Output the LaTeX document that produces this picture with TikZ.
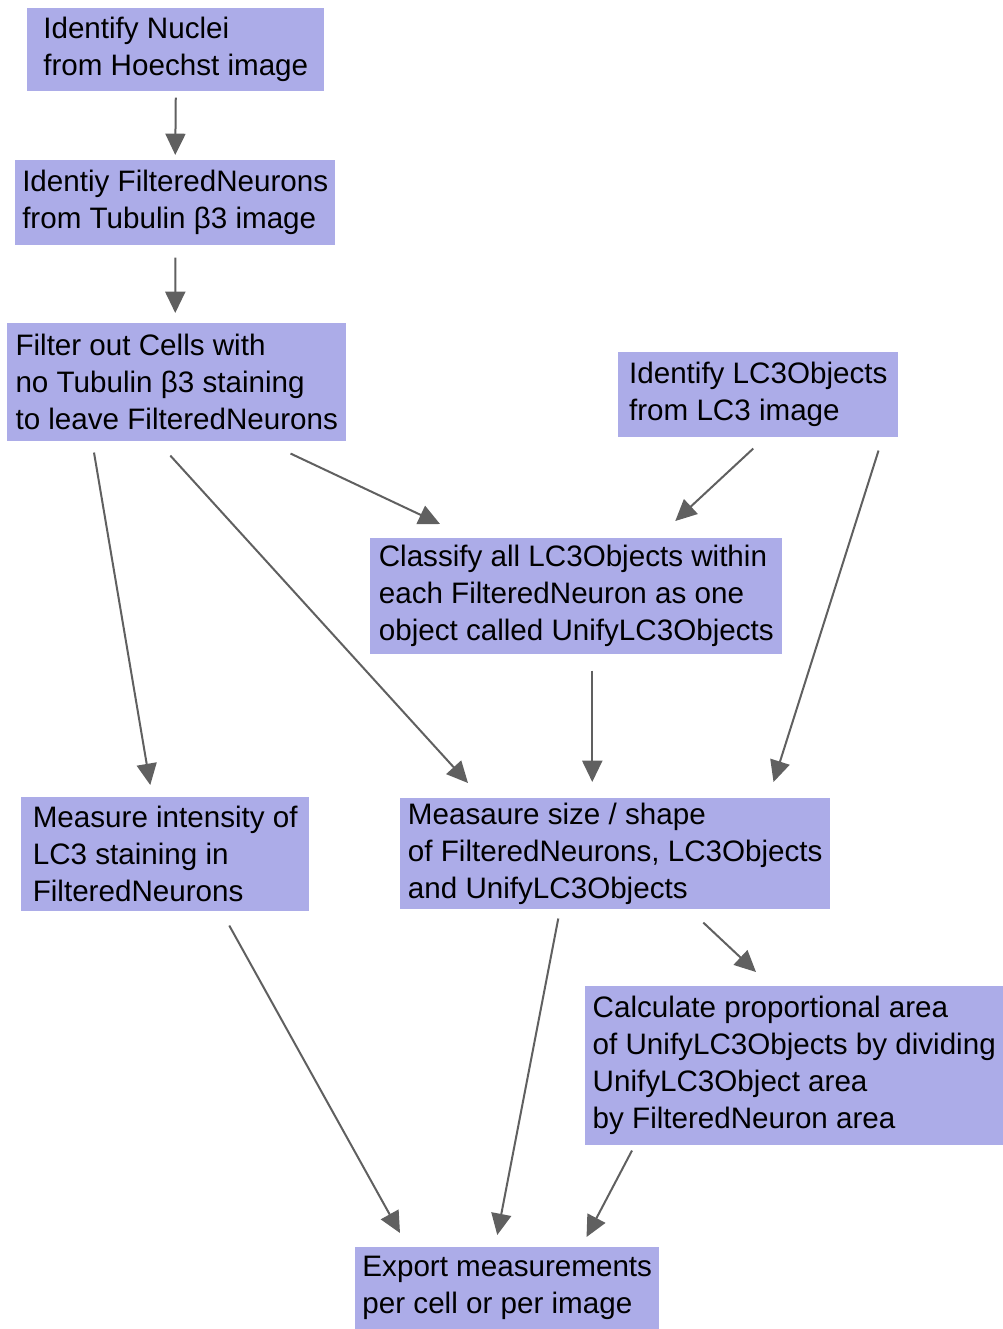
\documentclass[tikz,border=0pt]{standalone}
\usepackage{fontspec}
\setmainfont{Liberation Sans}
\usetikzlibrary{arrows.meta}
\definecolor{boxfill}{RGB}{172,172,232}
\definecolor{arrowgray}{RGB}{96,96,96}
\tikzstyle{stepbox}=[anchor=north west,fill=boxfill,align=left,inner xsep=5.25pt,inner ysep=3pt,font=\fontsize{22.2}{27.75}\selectfont]
\tikzstyle{edge} = [draw,line width=1.5pt,arrowgray,-{Triangle[length=16pt,width=15pt]}]

\begin{document}
\begin{tikzpicture}[x=0.75pt,y=-0.75pt]

    \useasboundingbox (0,0) rectangle (1003,1329);

    % boxes, placed at their top left corners
    \node[stepbox, minimum width=297*0.75pt, minimum height=83*0.75pt] (nuclei) at (27,8) {Identify Nuclei\\from Hoechst image};
    \node[stepbox, minimum width=319*0.75pt, minimum height=85*0.75pt] (neurons) at (15,160) {Identiy FilteredNeurons\\from Tubulin β3 image};
    \node[stepbox, minimum width=339*0.75pt, minimum height=118*0.75pt] (filter) at (7,323) {Filter out Cells with\\no Tubulin β3 staining\\to leave FilteredNeurons};
    \node[stepbox, minimum width=280*0.75pt, minimum height=85*0.75pt] (lcobj) at (618,352) {Identify LC3Objects\\from LC3 image};
    \node[stepbox, minimum width=412*0.75pt, minimum height=116*0.75pt] (classify) at (370,538) {Classify all LC3Objects within\\each FilteredNeuron as one\\object called UnifyLC3Objects};
    \node[stepbox, minimum width=288*0.75pt, minimum height=114*0.75pt] (intensity) at (21,797) {Measure intensity of\\LC3 staining in\\FilteredNeurons};
    \node[stepbox, minimum width=430*0.75pt, minimum height=111*0.75pt] (shape) at (400,798) {Measaure size / shape\\of FilteredNeurons, LC3Objects\\and UnifyLC3Objects};
    \node[stepbox, minimum width=418*0.75pt, minimum height=159*0.75pt] (ratio) at (585,986) {Calculate proportional area\\of UnifyLC3Objects by dividing\\UnifyLC3Object area\\by FilteredNeuron area};
    \node[stepbox, minimum width=304*0.75pt, minimum height=82*0.75pt] (export) at (355,1247) {Export measurements\\per cell or per image};

    % arrows, free standing between the boxes
    \path[edge] ([shift={(0,6)}]nuclei.south) -- ([shift={(0,-5)}]neurons.north);
    \path[edge] ([shift={(0,12)}]neurons.south) -- ([shift={(-1.5,-10)}]filter.north);
    \path[edge] ([shift={(-56,12)}]filter.south east) -- ([shift={(70,-14)}]classify.north west);
    \path[edge] ([shift={(-5,11)}]lcobj.south) -- ([shift={(99,-17)}]classify.north);
    \path[edge] ([shift={(87,11)}]filter.south west) -- ([shift={(-15,-12)}]intensity.north);
    \path[edge] ([shift={(-6.5,14)}]filter.south) -- ([shift={(68,-15)}]shape.north west);
    \path[edge] ([shift={(16,16)}]classify.south) -- ([shift={(-23,-16)}]shape.north);
    \path[edge] ([shift={(-20,13)}]lcobj.south east) -- ([shift={(-57,-16)}]shape.north east);
    \path[edge] ([shift={(88,13)}]shape.south) -- ([shift={(171,-14)}]ratio.north west);
    \path[edge] ([shift={(64,14)}]intensity.south) -- ([shift={(45,-14)}]export.north west);
    \path[edge] ([shift={(-57,9)}]shape.south) -- ([shift={(-10,-12)}]export.north);
    \path[edge] ([shift={(47,5)}]ratio.south west) -- ([shift={(-73,-10)}]export.north east);

\end{tikzpicture}
\end{document}
